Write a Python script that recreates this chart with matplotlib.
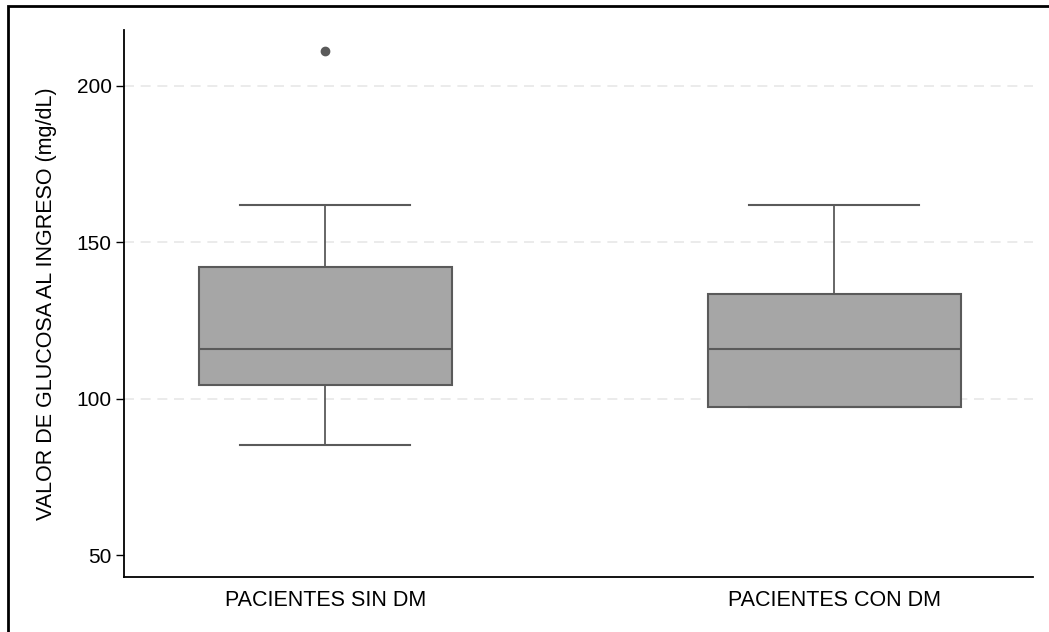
import matplotlib
matplotlib.use("Agg")
import matplotlib.pyplot as plt
from matplotlib.patches import Rectangle

plt.rcParams['font.family'] = ['Liberation Sans', 'DejaVu Sans']

categories = ["PACIENTES SIN DM", "PACIENTES CON DM"]
whislo = [85.3, 97.4]
q1 = [104.5, 97.4]
med = [116.0, 116.0]
q3 = [142.2, 133.5]
whishi = [162.0, 162.0]
fliers = [[211.2], []]
yticks = [50, 100, 150, 200]
gridlines = [100, 150, 200]

stats = []
for i, c in enumerate(categories):
    stats.append(dict(label=c, whislo=whislo[i], q1=q1[i], med=med[i],
                      q3=q3[i], whishi=whishi[i], fliers=fliers[i]))

fig = plt.figure(figsize=(10.49, 6.32), dpi=100)
ax = fig.add_axes([124/1049, 1-577/632, 909/1049, 547/632])

edge = '#5a5a5a'
ax.bxp(stats, positions=[1, 2], widths=0.497, patch_artist=True,
       boxprops=dict(facecolor='#a6a6a6', edgecolor=edge, linewidth=1.5),
       medianprops=dict(color=edge, linewidth=1.5),
       whiskerprops=dict(color=edge, linewidth=1.3),
       capprops=dict(color=edge, linewidth=1.5),
       capwidths=0.334,
       flierprops=dict(marker='o', markerfacecolor=edge, markeredgecolor=edge,
                       markersize=6))

ax.set_xlim(0.605, 2.39)
ax.set_ylim(43.0, 217.9)
ax.set_yticks(yticks)
ax.set_yticklabels([str(v) for v in yticks], fontsize=15)
ax.tick_params(axis='y', length=6, width=1, color='black', pad=3)
ax.tick_params(axis='x', length=0, pad=9, labelsize=15.5)
for v in gridlines:
    ax.axhline(v, color='#e8e8e8', linewidth=1.2, linestyle=(0, (6, 4)), zorder=0)

for s in ['top', 'right']:
    ax.spines[s].set_visible(False)
for s in ['left', 'bottom']:
    ax.spines[s].set_linewidth(1.3)
    ax.spines[s].set_color('black')

ax.set_ylabel("VALOR DE GLUCOSA AL INGRESO (mg/dL)", fontsize=15.5)
ax.yaxis.set_label_coords((57-124)/909, 0.5)

fig.patches.append(Rectangle((8/1049, -0.1), 1.2, 1-6/632+0.1, transform=fig.transFigure,
                             fill=False, edgecolor='black', linewidth=2))

fig.savefig("out.png", dpi=100)
